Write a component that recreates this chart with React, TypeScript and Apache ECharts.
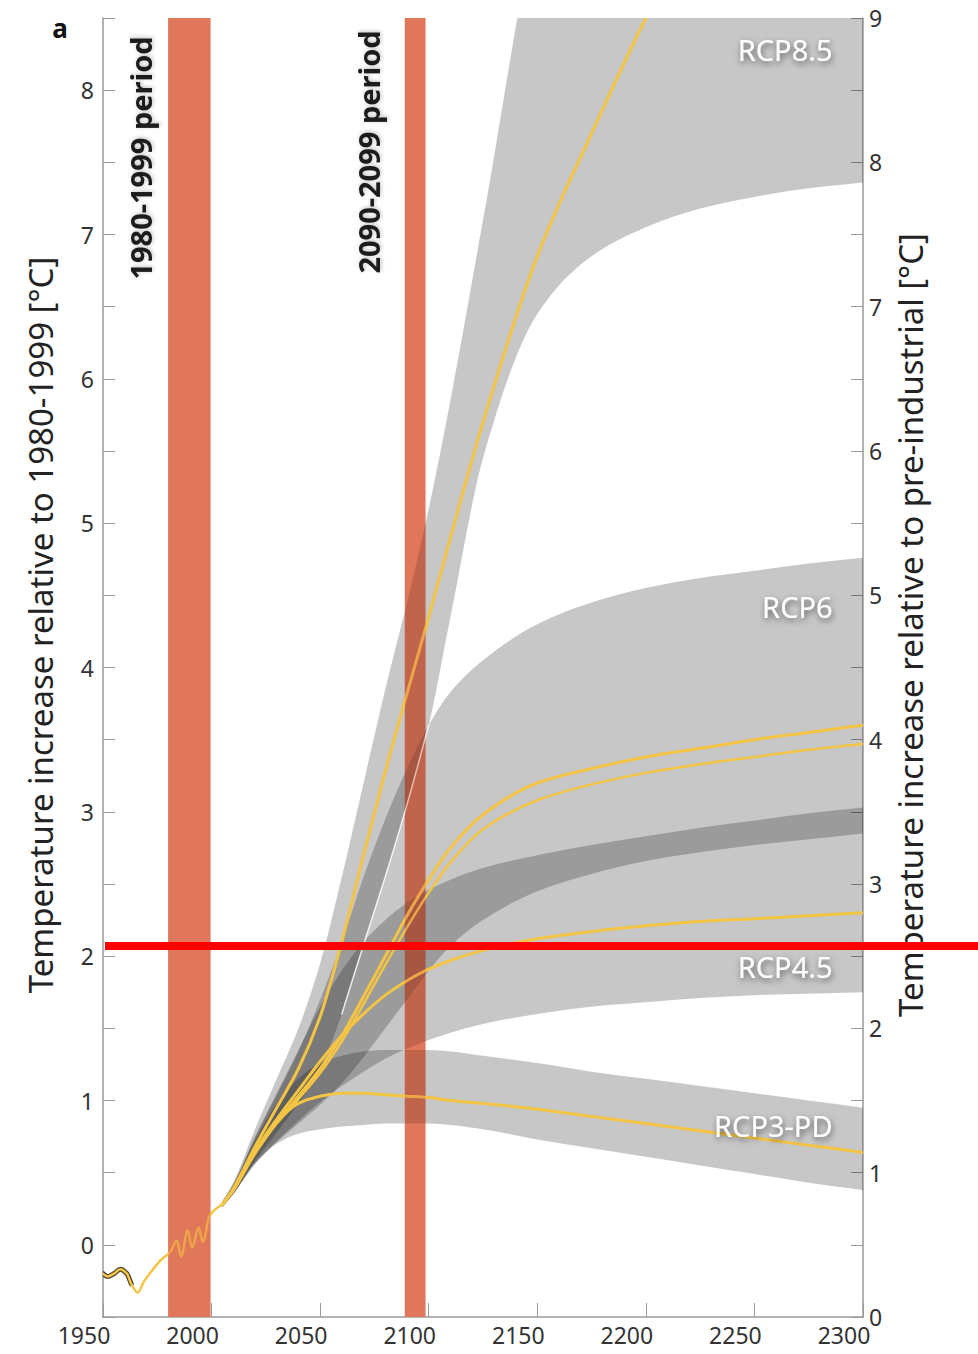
import React, { useEffect, useRef } from "react";
import * as echarts from "echarts";

// ---------- data (left axis: °C relative to 1980-1999) ----------
const historyYears = [1950, 1952, 1955, 1958, 1961, 1963, 1966, 1969, 1973, 1977, 1981, 1984, 1986, 1989, 1991, 1994, 1996, 1999, 2002, 2005];
const historyValues = [-0.2, -0.22, -0.2, -0.17, -0.2, -0.27, -0.33, -0.25, -0.17, -0.1, -0.05, 0.03, -0.08, 0.1, -0.02, 0.12, 0.02, 0.2, 0.25, 0.28];
const historyDarkYears = [1950, 1952, 1955, 1958, 1961, 1963];
const historyDarkValues = [-0.2, -0.22, -0.2, -0.17, -0.2, -0.27];

const projYears = [2005, 2010, 2020, 2030, 2040, 2050, 2060, 2070, 2080, 2090, 2100, 2110, 2125, 2150, 2175, 2200, 2225, 2250, 2275, 2300];

const rcp3Mean = [0.28, 0.38, 0.64, 0.85, 0.98, 1.03, 1.05, 1.05, 1.04, 1.03, 1.02, 1.0, 0.98, 0.94, 0.89, 0.84, 0.79, 0.74, 0.69, 0.64];
const rcp3Low = [0.26, 0.35, 0.56, 0.7, 0.77, 0.8, 0.82, 0.83, 0.84, 0.84, 0.84, 0.83, 0.8, 0.73, 0.67, 0.61, 0.55, 0.49, 0.43, 0.38];
const rcp3High = [0.3, 0.41, 0.72, 0.98, 1.15, 1.26, 1.31, 1.34, 1.35, 1.35, 1.35, 1.34, 1.31, 1.26, 1.2, 1.15, 1.1, 1.05, 1.0, 0.95];

const rcp45Mean = [0.28, 0.38, 0.65, 0.87, 1.07, 1.27, 1.45, 1.6, 1.73, 1.83, 1.91, 1.97, 2.04, 2.12, 2.17, 2.21, 2.24, 2.26, 2.28, 2.3];
const rcp45Low = [0.26, 0.35, 0.57, 0.72, 0.86, 0.99, 1.1, 1.2, 1.29, 1.36, 1.42, 1.47, 1.53, 1.6, 1.65, 1.68, 1.71, 1.73, 1.74, 1.75];
const rcp45High = [0.3, 0.42, 0.75, 1.05, 1.35, 1.65, 1.9, 2.1, 2.25, 2.37, 2.46, 2.53, 2.61, 2.7, 2.77, 2.83, 2.89, 2.94, 2.99, 3.03];

const rcp6Mean = [0.28, 0.38, 0.64, 0.85, 1.03, 1.22, 1.45, 1.72, 2.0, 2.28, 2.53, 2.75, 2.98, 3.2, 3.3, 3.38, 3.44, 3.5, 3.55, 3.6];
const rcp6Alt = [0.28, 0.38, 0.63, 0.84, 1.01, 1.19, 1.41, 1.67, 1.94, 2.2, 2.44, 2.65, 2.88, 3.08, 3.19, 3.27, 3.33, 3.38, 3.43, 3.47];
const rcp6Low = [0.26, 0.35, 0.56, 0.71, 0.84, 0.97, 1.12, 1.3, 1.5, 1.7, 1.9, 2.07, 2.25, 2.45, 2.57, 2.66, 2.72, 2.77, 2.81, 2.85];
const rcp6High = [0.3, 0.42, 0.74, 1.04, 1.34, 1.7, 2.1, 2.55, 2.95, 3.3, 3.6, 3.83, 4.05, 4.3, 4.45, 4.55, 4.62, 4.67, 4.72, 4.76];

const rcp85Mean = [0.28, 0.39, 0.68, 0.95, 1.22, 1.58, 2.1, 2.7, 3.28, 3.82, 4.35, 4.9, 5.7, 6.85, 7.7, 8.5, 9.2, 9.8, 10.3, 10.7];
const rcp85Low = [0.26, 0.36, 0.58, 0.78, 0.98, 1.22, 1.6, 2.08, 2.55, 3.05, 3.6, 4.35, 5.45, 6.45, 6.85, 7.05, 7.18, 7.26, 7.32, 7.36];
const rcp85High = [0.3, 0.43, 0.8, 1.15, 1.5, 1.95, 2.55, 3.2, 3.85, 4.45, 5.1, 5.85, 7.1, 9.2, 10.5, 11.5, 12, 12.5, 13, 13.5];
// stretch of the RCP8.5 lower edge that shows as a pale seam inside the other bands
const seamStart = 2060;
const seamEnd = 2100;

const periodStarts = [1980, 2089];
const periodEnds = [1999.5, 2098.5];
const periodLabels = ["1980-1999 period", "2090-2099 period"];

const rcpNames = ["RCP8.5", "RCP6", "RCP4.5", "RCP3-PD"];
const rcpLabelValues = [8.28, 4.42, 1.93, 0.83];
const rcpLabelYear = 2286;

const thresholdValue = 2.07;

const xMin = 1950, xMax = 2300, xStep = 50;
const yMin = -0.5, yMax = 8.5, yStep = 0.5;
const y2Min = 0, y2Max = 9;

const leftTitle = "Temperature increase relative to 1980-1999 [°C]";
const rightTitle = "Temperature increase relative to pre-industrial [°C]";

const FONT = "'Noto Sans', 'DejaVu Sans', sans-serif";
const YELLOW = "#f4c444";

// monotone cubic (in pixel space) -> SVG cubic segments
function monoSegments(p: number[][]): string {
  const n = p.length;
  const h: number[] = [], d: number[] = [], m: number[] = [];
  for (let k = 0; k < n - 1; k++) {
    h[k] = p[k + 1][0] - p[k][0];
    d[k] = (p[k + 1][1] - p[k][1]) / h[k];
  }
  m[0] = d[0];
  m[n - 1] = d[n - 2];
  for (let k = 1; k < n - 1; k++) {
    if (d[k - 1] * d[k] <= 0) m[k] = 0;
    else {
      const w1 = 2 * h[k] + h[k - 1], w2 = h[k] + 2 * h[k - 1];
      m[k] = (w1 + w2) / (w1 / d[k - 1] + w2 / d[k]);
    }
  }
  let s = "";
  for (let k = 0; k < n - 1; k++) {
    const c1x = p[k][0] + h[k] / 3, c1y = p[k][1] + (m[k] * h[k]) / 3;
    const c2x = p[k + 1][0] - h[k] / 3, c2y = p[k + 1][1] - (m[k + 1] * h[k]) / 3;
    s += ` C${c1x.toFixed(2)},${c1y.toFixed(2)} ${c2x.toFixed(2)},${c2y.toFixed(2)} ${p[k + 1][0].toFixed(2)},${p[k + 1][1].toFixed(2)}`;
  }
  return s;
}

function clipGroup(params: any, children: any[]) {
  const cs = params.coordSys;
  return {
    type: "group",
    clipPath: { type: "rect", shape: { x: cs.x, y: cs.y, width: cs.width, height: cs.height } },
    children,
  };
}

function bandSeries(id: string, lo: number[], hi: number[]) {
  return {
    type: "custom", id, z: 2, silent: true,
    data: [[projYears[0], lo[0]]],
    encode: { x: 0, y: 1 },
    renderItem: (params: any, api: any) => {
      const up = projYears.map((y, i) => api.coord([y, hi[i]]));
      const dn = projYears.map((y, i) => api.coord([y, lo[i]])).reverse();
      const d = `M${up[0][0]},${up[0][1]}${monoSegments(up)} L${dn[0][0]},${dn[0][1]}${monoSegments(dn)} Z`;
      return clipGroup(params, [
        { type: "path", shape: { pathData: d }, style: { fill: "rgba(0,0,0,0.22)", stroke: "none" } },
      ]);
    },
  };
}

function lineSeries(id: string, xs: number[], ys: number[], color: string, width: number, z = 3) {
  return {
    type: "custom", id, z, silent: true,
    data: [[xs[0], ys[0]]],
    encode: { x: 0, y: 1 },
    renderItem: (params: any, api: any) => {
      const pts = xs.map((x, i) => api.coord([x, ys[i]]));
      const d = `M${pts[0][0]},${pts[0][1]}${monoSegments(pts)}`;
      return clipGroup(params, [
        { type: "path", shape: { pathData: d }, style: { fill: "none", stroke: color, lineWidth: width, lineJoin: "round", lineCap: "round" } },
      ]);
    },
  };
}

function periodSeries(id: string, fill: string, z: number) {
  return {
    type: "custom", id, z, silent: true,
    data: periodStarts.map((s, i) => [s, periodEnds[i]]),
    encode: { x: 0, y: 1 },
    renderItem: (_p: any, api: any) => {
      const a = api.coord([api.value(0), yMax]);
      const b = api.coord([api.value(1), yMin]);
      return {
        type: "rect",
        shape: { x: a[0], y: a[1], width: b[0] - a[0], height: b[1] - a[1] },
        style: { fill },
      };
    },
  };
}

export default function App() {
  const ref = useRef<HTMLDivElement>(null);
  useEffect(() => {
    if (!ref.current) return;
    const chart = echarts.init(ref.current, undefined, { renderer: "svg" });
    const axisColor = "#9a9a9a";
    const intLabel = (v: number) => (Number.isInteger(v) ? String(v) : "");
    const seamIdx = projYears.map((y, i) => i).filter((i) => projYears[i] >= seamStart && projYears[i] <= seamEnd);
    const option: any = {
      animation: false,
      backgroundColor: "#ffffff",
      textStyle: { fontFamily: FONT },
      grid: { left: 103, right: 115, top: 18, bottom: 37, containLabel: false },
      xAxis: {
        type: "value", min: xMin, max: xMax, interval: xStep,
        axisLine: { show: true, onZero: false, lineStyle: { color: axisColor, width: 1.5 } },
        axisTick: { show: true, inside: true, length: 14, lineStyle: { color: axisColor } },
        axisLabel: { fontSize: 23, color: "#333", margin: 6, padding: [0, 38, 0, 0], fontFamily: FONT, formatter: (v: number) => String(v) },
        splitLine: { show: false },
      },
      yAxis: [
        {
          type: "value", min: yMin, max: yMax, interval: yStep, position: "left",
          axisLine: { show: true, onZero: false, lineStyle: { color: axisColor, width: 1.5 } },
          axisTick: { show: true, inside: true, length: 12, lineStyle: { color: axisColor } },
          axisLabel: { fontSize: 23, color: "#333", margin: 9, fontFamily: FONT, formatter: intLabel },
          splitLine: { show: false },
        },
        {
          type: "value", min: y2Min, max: y2Max, interval: yStep, position: "right",
          axisLine: { show: true, onZero: false, lineStyle: { color: axisColor, width: 1.5 } },
          axisTick: { show: true, inside: true, length: 12, lineStyle: { color: axisColor } },
          axisLabel: { fontSize: 23, color: "#333", margin: 6, fontFamily: FONT, formatter: intLabel },
          splitLine: { show: false },
        },
      ],
      series: [
        periodSeries("periods", "#e07b60", 1),
        bandSeries("b3", rcp3Low, rcp3High),
        bandSeries("b45", rcp45Low, rcp45High),
        bandSeries("b6", rcp6Low, rcp6High),
        bandSeries("b85", rcp85Low, rcp85High),
        lineSeries("seam", seamIdx.map((i) => projYears[i]), seamIdx.map((i) => rcp85Low[i]), "rgba(255,255,255,0.85)", 1.5, 2.5),
        lineSeries("histDark", historyDarkYears, historyDarkValues, "#4a4530", 5),
        lineSeries("hist", historyYears, historyValues, YELLOW, 2.5),
        lineSeries("m3", projYears, rcp3Mean, YELLOW, 3),
        lineSeries("m45", projYears, rcp45Mean, YELLOW, 3),
        lineSeries("m6b", projYears, rcp6Alt, YELLOW, 2.5),
        lineSeries("m6", projYears, rcp6Mean, YELLOW, 3),
        lineSeries("m85", projYears, rcp85Mean, YELLOW, 3),
        periodSeries("periodsTop", "rgba(224,110,80,0.35)", 5),
      ],
    };
    chart.setOption(option);

    const px = (x: number, y: number) => chart.convertToPixel({ xAxisIndex: 0, yAxisIndex: 0 }, [x, y]) as number[];
    const graphics: any[] = [];
    graphics.push({
      type: "text", x: 40, y: 625, rotation: Math.PI / 2,
      style: { text: leftTitle, fontSize: 33, fontFamily: FONT, fill: "#222", align: "center", verticalAlign: "middle" },
    });
    graphics.push({
      type: "text", x: 910, y: 625, rotation: Math.PI / 2,
      style: { text: rightTitle, fontSize: 33, fontFamily: FONT, fill: "#222", align: "center", verticalAlign: "middle" },
    });
    graphics.push({
      type: "text", x: 60, y: 28,
      style: { text: "a", fontSize: 26, fontWeight: "bold", fontFamily: FONT, fill: "#111", align: "center", verticalAlign: "middle" },
    });
    const periodLabelPos = [[140, 158], [368, 152]];
    periodLabels.forEach((t, i) => {
      graphics.push({
        type: "text", x: periodLabelPos[i][0], y: periodLabelPos[i][1], rotation: Math.PI / 2, z: 10,
        style: {
          text: t, fontSize: 29, fontWeight: "bold", fontFamily: FONT, fill: "#1a1a1a",
          align: "center", verticalAlign: "middle",
          textShadowColor: "rgba(0,0,0,0.25)", textShadowBlur: 4, textShadowOffsetX: 1, textShadowOffsetY: 1,
        },
      });
    });
    rcpNames.forEach((t, i) => {
      const p = px(rcpLabelYear, rcpLabelValues[i]);
      graphics.push({
        type: "text", x: p[0], y: p[1], z: 10,
        style: {
          text: t, fontSize: 29, fontFamily: FONT, fill: "#ffffff",
          align: "right", verticalAlign: "middle",
          textShadowColor: "rgba(0,0,0,0.55)", textShadowBlur: 6, textShadowOffsetX: 1, textShadowOffsetY: 3,
        },
      });
    });
    const a = px(xMin, thresholdValue);
    graphics.push({
      type: "line", z: 20,
      shape: { x1: a[0] + 2, y1: a[1], x2: 978, y2: a[1] },
      style: { stroke: "#ff0000", lineWidth: 8 },
    });
    chart.setOption({ graphic: graphics });

    return () => chart.dispose();
  }, []);
  return <div ref={ref} style={{ position: "fixed", left: 0, top: 0, width: 978, height: 1354 }} />;
}
